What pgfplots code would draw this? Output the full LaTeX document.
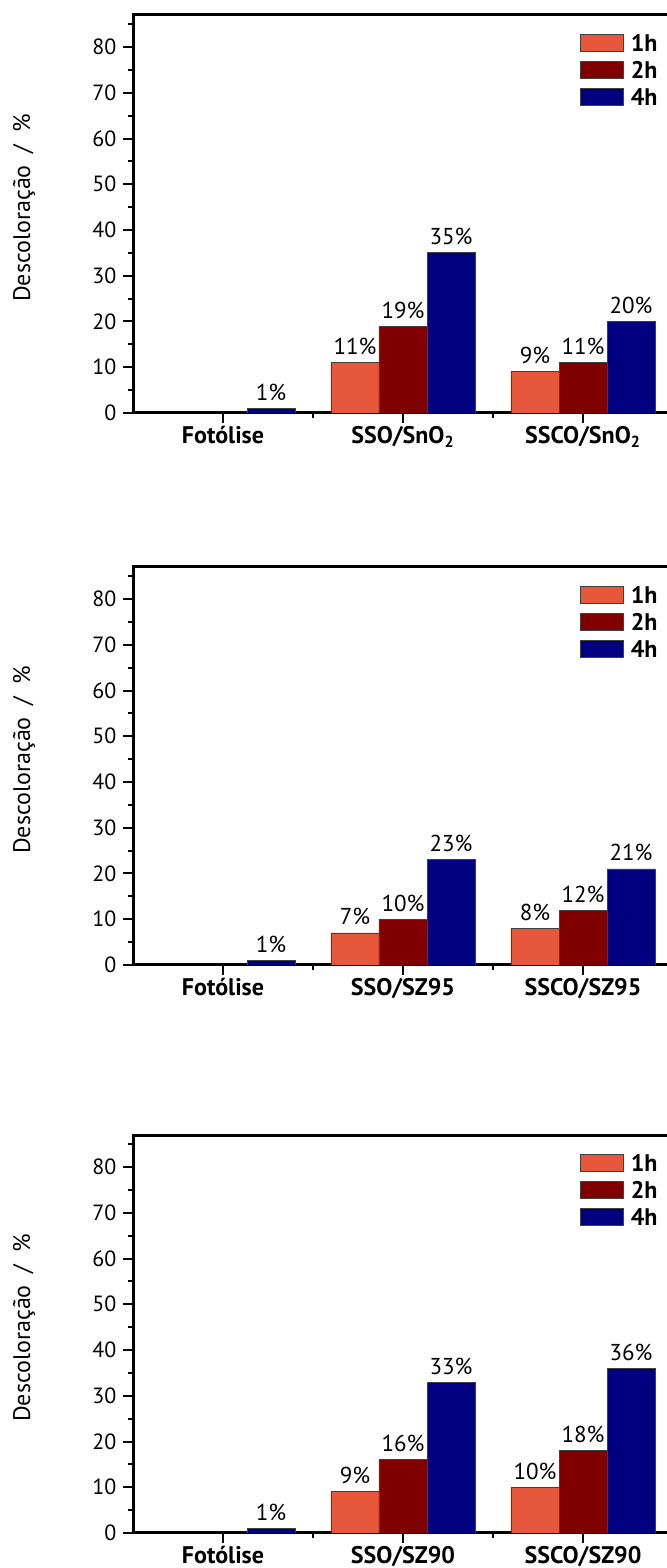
\documentclass[border=0pt]{standalone}
\usepackage{fontspec}
\setmainfont{PT Sans}
\usepackage{pgfplots}
\pgfplotsset{compat=1.18}
\definecolor{c1}{RGB}{231,87,60}
\definecolor{c2}{RGB}{128,0,0}
\definecolor{c3}{RGB}{0,0,128}
\pgfplotsset{
  panel/.style={
    scale only axis,
    width=270pt, height=199pt,
    xmin=-0.5, xmax=2.5, ymin=0, ymax=87,
    axis line style={line width=1.5pt},
    ybar=0pt, bar width=0.2667,
    xtick={0,1,2},
    minor xtick={0.5,1.5},
    ytick={0,10,...,80},
    minor ytick={5,15,...,85},
    tick align=outside,
    xtick pos=bottom, ytick pos=left,
    major tick length=4.8pt, minor tick length=2.5pt,
    every tick/.style={black, line width=1pt},
    tick label style={font=\fontsize{11}{13}\selectfont},
    xticklabel style={font=\bfseries\fontsize{12}{14}\selectfont, text depth=0pt, yshift=1.5pt},
    /pgf/number format/assume math mode=true,
    ylabel={Descoloração\hspace{0.5em}/\hspace{0.5em}\%},
    ylabel style={at={(axis description cs:-0.2019,0.515)}, anchor=center, font=\fontsize{12}{14}\selectfont},
    legend style={draw=none, fill=none, at={(axis description cs:0.985,0.958)}, anchor=north east,
      font=\bfseries\fontsize{12}{14}\selectfont, row sep=3pt, inner sep=0pt,
      nodes={inner ysep=1pt, inner xsep=3.5pt, text height=8.5pt, text depth=0pt}},
    legend image code/.code={\draw[##1,/tikz/.cd] (0pt,-4.25pt) rectangle (21.5pt,4.25pt);},
    legend cell align=left,
    nodes near coords={\pgfmathprintnumber{\pgfplotspointmeta}\%},
    every node near coord/.append style={font=\fontsize{11.5}{13}\selectfont, anchor=base, inner sep=0pt, yshift=4pt, black},
    enlargelimits=false,
  },
  b1/.style={fill=c1, draw=black!75, line width=0.4pt},
  b2/.style={fill=c2, draw=black!75, line width=0.4pt},
  b3/.style={fill=c3, draw=black!75, line width=0.4pt},
}
\begin{document}
\begin{tikzpicture}
% Panel 1
\begin{axis}[panel, at={(66.5pt,577.5pt)}, anchor=south west,
  xticklabels={Fotólise, SSO/SnO\textsubscript{2}, SSCO/SnO\textsubscript{2}}]
\addplot[b1] coordinates {(1,11) (2,9)};
\addplot[b2] coordinates {(1,19) (2,11)};
\addplot[b3] coordinates {(0,1) (1,35) (2,20)};
\legend{1h,2h,4h}
\end{axis}
% Panel 2
\begin{axis}[panel, at={(66.5pt,301.5pt)}, anchor=south west,
  xticklabels={Fotólise, SSO/SZ95, SSCO/SZ95}]
\addplot[b1] coordinates {(1,7) (2,8)};
\addplot[b2] coordinates {(1,10) (2,12)};
\addplot[b3] coordinates {(0,1) (1,23) (2,21)};
\legend{1h,2h,4h}
\end{axis}
% Panel 3
\begin{axis}[panel, at={(66.5pt,17.5pt)}, anchor=south west,
  xticklabels={Fotólise, SSO/SZ90, SSCO/SZ90}]
\addplot[b1] coordinates {(1,9) (2,10)};
\addplot[b2] coordinates {(1,16) (2,18)};
\addplot[b3] coordinates {(0,1) (1,33) (2,36)};
\legend{1h,2h,4h}
\end{axis}
\pgfresetboundingbox
\path[use as bounding box] (0,0) rectangle (333.5pt,784pt);
\end{tikzpicture}
\end{document}
